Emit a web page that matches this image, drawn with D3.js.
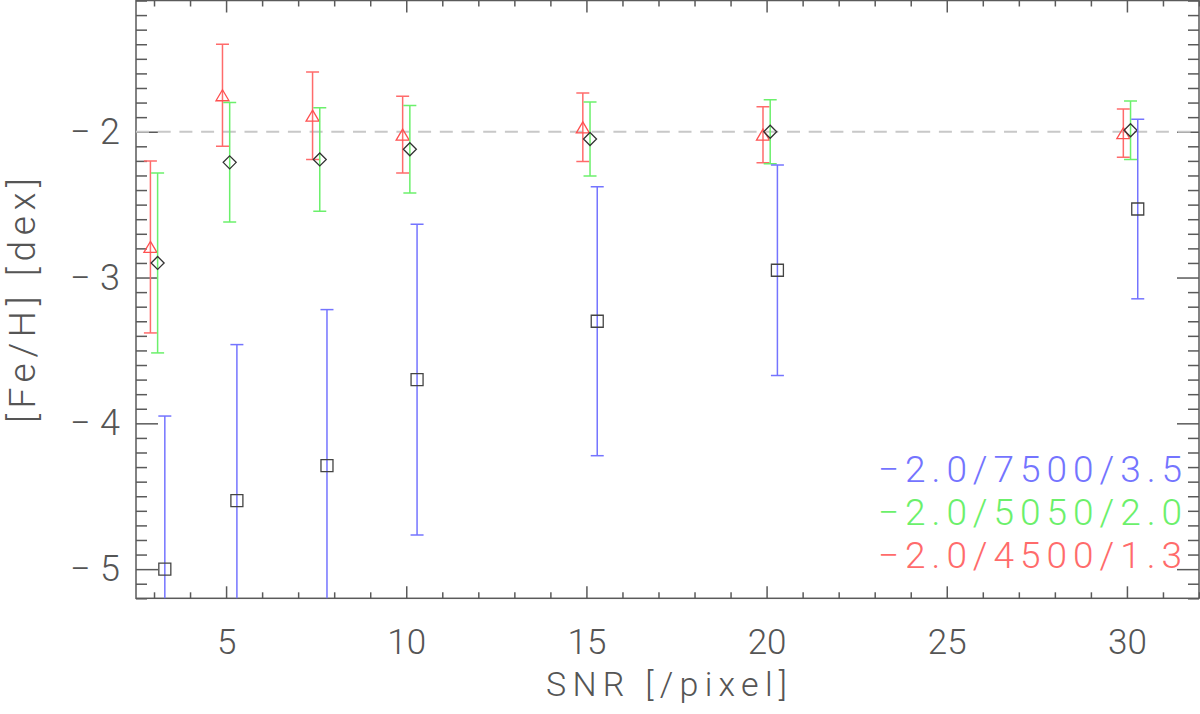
<!DOCTYPE html>
<html>
<head>
<meta charset="utf-8">
<script src="https://cdn.jsdelivr.net/npm/d3@7"></script>
<style>
  body { margin: 0; background: #fff; }
  text { font-family: Roboto, "DejaVu Sans", sans-serif; font-weight: 300; fill: #555; }
</style>
</head>
<body>
<div id="chart"></div>
<script>
// ---- data ----
var snrRed   = [2.9, 4.9, 7.4, 9.9, 14.9, 19.9, 29.9];
var snrGreen = [3.1, 5.1, 7.6, 10.1, 15.1, 20.1, 30.1];
var snrBlue  = [3.3, 5.3, 7.8, 10.3, 15.3, 20.3, 30.3];

var fehRed   = [-2.79, -1.75, -1.89, -2.02, -1.97, -2.02, -2.01];
var errRed   = [0.59, 0.35, 0.30, 0.263, 0.235, 0.192, 0.165];
var fehGreen = [-2.90, -2.21, -2.19, -2.12, -2.05, -2.00, -1.99];
var errGreen = [0.617, 0.41, 0.355, 0.30, 0.254, 0.22, 0.20];
var fehBlue  = [-5.00, -4.53, -4.29, -3.70, -3.30, -2.95, -2.53];
var errBlue  = [1.05, 1.07, 1.07, 1.066, 0.922, 0.722, 0.616];

var legendLabels = ["\u22122.0/7500/3.5", "\u22122.0/5050/2.0", "\u22122.0/4500/1.3"];
var xMajor = [5, 10, 15, 20, 25, 30];
var yMajor = [-5, -4, -3, -2];
var refFeH = -2;

// ---- layout ----
var W = 1200, H = 714;
var plot = { left: 136, right: 1199, top: 0.5, bottom: 598.3 };

var svg = d3.select("#chart").append("svg")
    .attr("width", W)
    .attr("height", H);

var x = d3.scaleLinear().domain([2.5, 32]).range([plot.left, plot.right]);
var y = d3.scaleLinear().domain([-5.2, -1.1]).range([plot.bottom, plot.top]);

var axisColor = "#5a5a5a";

svg.append("clipPath").attr("id", "clip")
    .append("rect")
    .attr("x", plot.left).attr("y", plot.top)
    .attr("width", plot.right - plot.left).attr("height", plot.bottom - plot.top);

// minor tick values
var xMinor = d3.range(3, 33).filter(function(v) { return xMajor.indexOf(v) < 0; });
var yMinor = d3.range(-52, -10).map(function(v) { return v / 10; })
    .filter(function(v) { return yMajor.indexOf(v) < 0; });

function styleAxis(g) {
    g.select(".domain").remove();
    g.selectAll("line").attr("stroke", axisColor).attr("stroke-width", 1.5);
}

// bottom
svg.append("g").attr("transform", "translate(0," + plot.bottom + ")")
    .call(d3.axisBottom(x).tickValues(xMajor).tickSize(-12).tickPadding(31))
    .call(styleAxis)
    .selectAll("text").style("font-size", "35px").style("font-family", null);
svg.append("g").attr("transform", "translate(0," + plot.bottom + ")")
    .call(d3.axisBottom(x).tickValues(xMinor).tickSize(-6).tickFormat(""))
    .call(styleAxis);
// top
svg.append("g").attr("transform", "translate(0," + plot.top + ")")
    .call(d3.axisTop(x).tickValues(xMajor).tickSize(-12).tickFormat(""))
    .call(styleAxis);
svg.append("g").attr("transform", "translate(0," + plot.top + ")")
    .call(d3.axisTop(x).tickValues(xMinor).tickSize(-6).tickFormat(""))
    .call(styleAxis);
// left
svg.append("g").attr("transform", "translate(" + plot.left + ",0)")
    .call(d3.axisLeft(y).tickValues(yMajor).tickSize(-22).tickPadding(16)
        .tickFormat(function(d) { return "\u2212" + Math.abs(d); }))
    .call(styleAxis)
    .selectAll("text")
    .style("font-size", "36px").style("font-family", null)
    .attr("textLength", 50).attr("lengthAdjust", "spacing");
svg.append("g").attr("transform", "translate(" + plot.left + ",0)")
    .call(d3.axisLeft(y).tickValues(yMinor).tickSize(-11).tickFormat(""))
    .call(styleAxis);
// right
svg.append("g").attr("transform", "translate(" + plot.right + ",0)")
    .call(d3.axisRight(y).tickValues(yMajor).tickSize(-22).tickFormat(""))
    .call(styleAxis);
svg.append("g").attr("transform", "translate(" + plot.right + ",0)")
    .call(d3.axisRight(y).tickValues(yMinor).tickSize(-11).tickFormat(""))
    .call(styleAxis);

// frame
svg.append("rect")
    .attr("x", plot.left).attr("y", plot.top)
    .attr("width", plot.right - plot.left).attr("height", plot.bottom - plot.top)
    .attr("fill", "none").attr("stroke", axisColor).attr("stroke-width", 1.5);

// reference line at [Fe/H] = -2
svg.append("line")
    .attr("x1", plot.left).attr("x2", plot.right)
    .attr("y1", y(refFeH)).attr("y2", y(refFeH))
    .attr("stroke", "#c8c8c8").attr("stroke-width", 2)
    .attr("stroke-dasharray", "13,8.7");

// ---- series ----
var series = [
    { xs: snrRed,   ys: fehRed,   es: errRed,   color: "#ff6b6b", sym: "triangle", symColor: "#ff5050" },
    { xs: snrGreen, ys: fehGreen, es: errGreen, color: "#6bf06b", sym: "diamond",  symColor: "#333" },
    { xs: snrBlue,  ys: fehBlue,  es: errBlue,  color: "#7474ff", sym: "square",   symColor: "#444" }
];

var symPath = {
    triangle: "M0,-5.5L6.5,5.5L-6.5,5.5Z",
    diamond:  "M0,-6.5L6.5,0L0,6.5L-6.5,0Z",
    square:   "M-6,-6L6,-6L6,6L-6,6Z"
};

var dataLayer = svg.append("g").attr("clip-path", "url(#clip)");

series.forEach(function(s) {
    var pts = s.xs.map(function(v, i) { return { x: v, y: s.ys[i], e: s.es[i] }; });
    var g = dataLayer.append("g");
    var bars = g.selectAll("g.bar").data(pts).enter().append("g").attr("class", "bar");
    bars.append("line")
        .attr("x1", function(d) { return x(d.x); })
        .attr("x2", function(d) { return x(d.x); })
        .attr("y1", function(d) { return y(d.y + d.e); })
        .attr("y2", function(d) { return y(d.y - d.e); })
        .attr("stroke", s.color).attr("stroke-width", 1.5);
    [1, -1].forEach(function(sign) {
        bars.append("line")
            .attr("x1", function(d) { return x(d.x) - 6.5; })
            .attr("x2", function(d) { return x(d.x) + 6.5; })
            .attr("y1", function(d) { return y(d.y + sign * d.e); })
            .attr("y2", function(d) { return y(d.y + sign * d.e); })
            .attr("stroke", s.color).attr("stroke-width", 1.5);
    });
    bars.append("path")
        .attr("d", symPath[s.sym])
        .attr("transform", function(d) { return "translate(" + x(d.x) + "," + y(d.y) + ")"; })
        .attr("fill", "none").attr("stroke", s.symColor).attr("stroke-width", 1.3);
});

// ---- legend ----
var legendColors = ["#7474ff", "#6bf06b", "#ff6b6b"];
svg.selectAll("text.legend").data(legendLabels).enter().append("text")
    .attr("class", "legend")
    .attr("x", 878)
    .attr("y", function(d, i) { return 482 + i * 43; })
    .attr("textLength", 304).attr("lengthAdjust", "spacing")
    .style("font-size", "37px")
    .style("fill", function(d, i) { return legendColors[i]; })
    .text(function(d) { return d; });

// ---- axis titles ----
svg.append("text")
    .attr("x", 546).attr("y", 696)
    .attr("textLength", 241).attr("lengthAdjust", "spacing")
    .style("font-size", "34px")
    .text("SNR [/pixel]");

svg.append("text")
    .attr("transform", "translate(35,423) rotate(-90)")
    .attr("x", 0).attr("y", 0)
    .attr("textLength", 245).attr("lengthAdjust", "spacing")
    .style("font-size", "37px")
    .text("[Fe/H] [dex]");
</script>
</body>
</html>
